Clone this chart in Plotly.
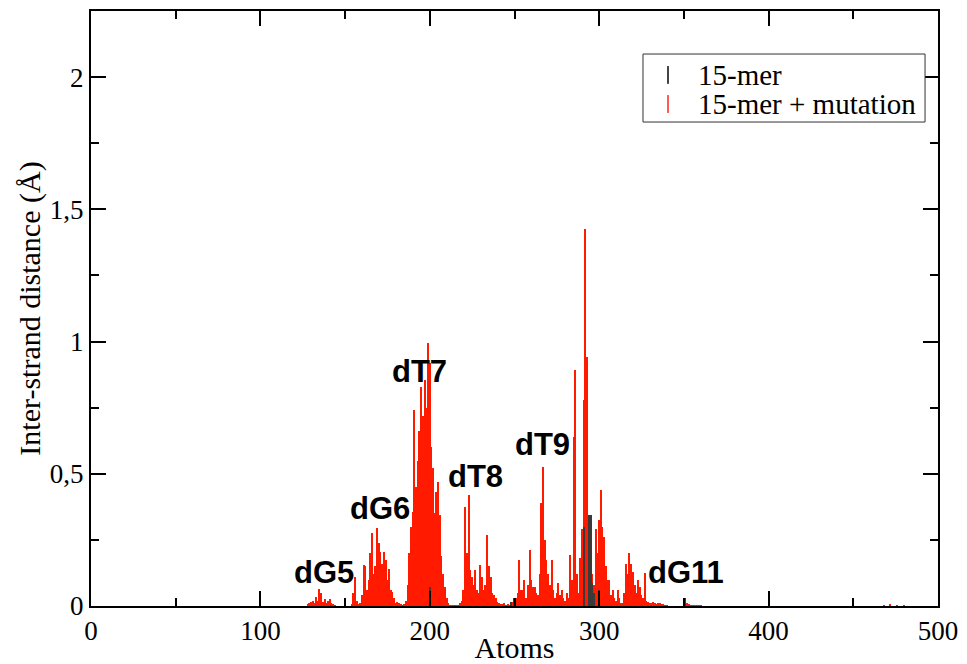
import plotly.graph_objects as go

# ---- data ----
red_first_atom = 128
red_distance = [
    0.005, 0.01, 0.015, 0.02, 0.01, 0.035, 0.02, 0.063, 0.05, 0.015,   # 128-137
    0.025, 0.01, 0.02, 0.025, 0.01, 0.005, 0.002, 0, 0, 0,              # 138-147
    0, 0, 0, 0, 0, 0, 0.005, 0.05, 0.11, 0.02,                          # 148-157
    0.005, 0.01, 0.04, 0.155, 0.15, 0.06, 0.1, 0.2, 0.275, 0.12,        # 158-167
    0.15, 0.294, 0.24, 0.205, 0.16, 0.205, 0.174, 0.1, 0.14, 0.06,      # 168-177
    0.054, 0.03, 0.01, 0.015, 0.01, 0.005, 0.003, 0.005, 0.02, 0.08,    # 178-187
    0.2, 0.3, 0.357, 0.74, 0.45, 0.55, 0.66, 0.83, 0.72, 0.855,         # 188-197
    0.75, 0.993, 0.92, 0.6, 0.52, 0.35, 0.43, 0.47, 0.344, 0.19,        # 198-207
    0.12, 0.07, 0.03, 0.01, 0.003, 0.002, 0.002, 0.002, 0.002, 0.003,   # 208-217
    0.01, 0.02, 0.06, 0.375, 0.2, 0.42, 0.136, 0.11, 0.08, 0.136,       # 218-227
    0.06, 0.05, 0.155, 0.11, 0.06, 0.08, 0.268, 0.15, 0.11, 0.05,       # 228-237
    0.04, 0.03, 0.015, 0.01, 0.005, 0.005, 0.01, 0.003, 0.005, 0.003,   # 238-247
    0.01, 0.015, 0.02, 0.03, 0.05, 0.174, 0.06, 0.06, 0.1, 0.03,        # 248-257
    0.08, 0.21, 0.1, 0.07, 0.07, 0.05, 0.04, 0.12, 0.39, 0.527,         # 258-267
    0.25, 0.174, 0.12, 0.08, 0.174, 0.06, 0.03, 0.05, 0.086, 0.04,      # 268-277
    0.06, 0.03, 0.02, 0.05, 0.03, 0.193, 0.1, 0.64, 0.892, 0.12,        # 278-287
    0.05, 0.18, 0.29, 0.78, 1.424, 0.943, 0.3, 0.25, 0.12, 0.08,        # 288-297
    0.29, 0.2, 0.325, 0.44, 0.3, 0.262, 0.15, 0.1, 0.1, 0.04,           # 298-307
    0.06, 0.03, 0.02, 0.06, 0.03, 0.01, 0.01, 0.05, 0.16, 0.12,         # 308-317
    0.2, 0.16, 0.13, 0.08, 0.05, 0.1, 0.07, 0.04, 0.03, 0.124,          # 318-327
    0.02, 0.015, 0.01, 0.012, 0.015, 0.01, 0.008, 0.012, 0.01, 0.006,   # 328-337
    0.005, 0.003, 0.002, 0, 0, 0, 0, 0, 0, 0,                          # 338-347
    0, 0, 0.003, 0.008, 0.01, 0.006, 0.003, 0.002, 0.002, 0.003,        # 348-357
    0.002, 0.002, 0.002,                                                # 358-360
]
red_tail_atoms = [468, 472, 476, 480]
red_tail_distance = [0.003, 0.004, 0.003, 0.003]

black_atoms = [150, 200, 248, 250, 291, 294, 295, 296, 297, 300, 351]
black_distance = [0.03, 0.073, 0.015, 0.03, 0.3, 0.344, 0.344, 0.087, 0.05, 0.06, 0.03]

label_text = ["dG5", "dG6", "dT7", "dT8", "dT9", "dG11"]
label_atom = [137.5, 170.6, 194.2, 226.7, 266.8, 351.2]
label_dist = [0.125, 0.367, 0.885, 0.488, 0.609, 0.125]

x_ticks = [0, 100, 200, 300, 400, 500]
y_ticks = [0, 0.5, 1, 1.5, 2]
y_tick_text = ["0", "0,5", "1", "1,5", "2"]

series_names = ["15-mer", "15-mer + mutation"]
RED = "#ff1a00"
BLACK = "#3a3a3a"
legend_colors = ["#444444", "#ff5a5a"]

red_atoms = list(range(red_first_atom, red_first_atom + len(red_distance))) + red_tail_atoms
red_vals = red_distance + red_tail_distance

SERIF = "Liberation Serif, Times New Roman, serif"

fig = go.Figure()
fig.add_trace(go.Bar(x=red_atoms, y=red_vals, width=0.85, name=series_names[1],
                     marker=dict(color=RED, line=dict(width=0)), showlegend=False))
fig.add_trace(go.Bar(x=black_atoms, y=black_distance, width=0.85, name=series_names[0],
                     marker=dict(color=BLACK, line=dict(width=0)), showlegend=False))

for t, a, d in zip(label_text, label_atom, label_dist):
    fig.add_annotation(x=a, y=d, text="<b>%s</b>" % t, showarrow=False,
                       font=dict(family="Liberation Sans, Arial, sans-serif", size=31, color="black"))

# ---- hand-drawn legend box (paper coordinates) ----
leg_x0, leg_x1, leg_y0, leg_y1 = 0.6517, 0.9847, 0.8134, 0.9277
sym_x = 0.6812
text_x = 0.7143
row_y = [0.8925, 0.8437]
sym_half = 0.015
fig.add_shape(type="rect", xref="paper", yref="paper", x0=leg_x0, x1=leg_x1, y0=leg_y0, y1=leg_y1,
              line=dict(color="#333333", width=1), fillcolor="white", layer="above")
for name, col, ry in zip(series_names, legend_colors, row_y):
    fig.add_shape(type="line", xref="paper", yref="paper", x0=sym_x, x1=sym_x,
                  y0=ry - sym_half, y1=ry + sym_half, line=dict(color=col, width=2), layer="above")
    fig.add_annotation(xref="paper", yref="paper", x=text_x, y=ry, xanchor="left", yanchor="middle",
                       text=name, showarrow=False,
                       font=dict(family=SERIF, size=29, color="black"))

axis_common = dict(showgrid=False, zeroline=False, showline=True, linecolor="black", linewidth=2,
                   mirror="allticks", ticks="inside", tickcolor="black", tickwidth=1.5, ticklen=15,
                   automargin=False,
                   tickfont=dict(family=SERIF, size=27, color="black"))

fig.update_xaxes(range=[0, 500], tickvals=x_ticks, ticktext=[str(v) for v in x_ticks],
                 minor=dict(dtick=50, ticks="inside", ticklen=8, tickcolor="black", tickwidth=1.5),
                 title=dict(text="Atoms", font=dict(family=SERIF, size=30, color="black"), standoff=3),
                 **axis_common)
fig.update_yaxes(range=[0, 2.25], tickvals=y_ticks, ticktext=y_tick_text,
                 minor=dict(dtick=0.25, ticks="inside", ticklen=8, tickcolor="black", tickwidth=1.5),
                 title=dict(text="Inter-strand distance (Å)", font=dict(family=SERIF, size=30, color="black"),
                            standoff=0),
                 **axis_common)

fig.update_layout(
    width=967, height=664,
    margin=dict(l=91, r=29, t=11, b=58),
    plot_bgcolor="white", paper_bgcolor="white",
    barmode="overlay", bargap=0,
    showlegend=False,
)

fig.write_html("out.html")
